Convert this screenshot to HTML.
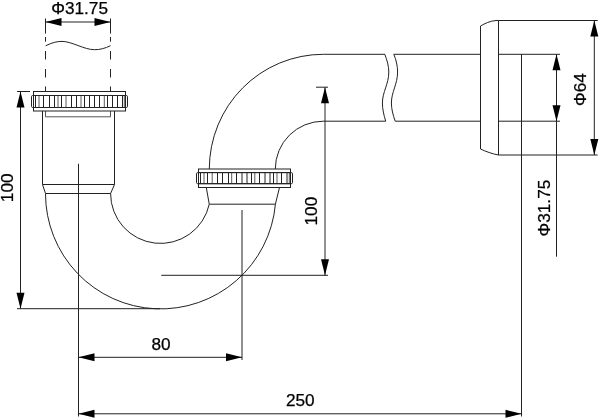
<!DOCTYPE html>
<html><head><meta charset="utf-8"><title>drawing</title>
<style>
html,body{margin:0;padding:0;background:#fff;}
svg{display:block;will-change:transform}
text{font-family:"Liberation Sans",sans-serif;font-size:17.2px;fill:#000;stroke:#000;stroke-width:0.25px;}
</style></head><body>
<svg width="600" height="420" viewBox="0 0 600 420">
<rect width="600" height="420" fill="#fff"/>
<g fill="none" stroke="#222" stroke-width="1">
<!-- top dimension -->
<path d="M45.5,18.5V33.5 M45.5,37V41.7 M45.5,51V59.5 M45.5,69V77.5 M45.5,86.5V91.5 M110.5,18.5V33.5 M110.5,37V41.7 M110.5,51V59.5 M110.5,69V77.5 M110.5,86.5V91.5"/>
<path d="M45.5,22H110.5"/>
<path d="M45.6,45.8 C52,42.6 57,41.4 62,41.4 C72,41.4 84,49.7 94.5,49.7 C100,49.7 105,48.4 110.5,45.7"/>
<!-- pipe 1 -->
<path d="M45.5,111V116.8H110.5V111" stroke="#555"/>
<path d="M42.5,111V184.5L45.50,193.5 M114.5,111V184.5L110.60,193.5 M42.5,184.5H114.5 M45.50,193.5H110.60"/>
<!-- U bend -->
<path d="M45.50,193.5 A115.2,115.2 0 0 0 275.42,204.2"/>
<path d="M110.60,193.5 A49.9,49.8 0 0 0 209.26,204.2"/>
<!-- below nut2 -->
<path d="M206.3,187.5L209.26,204.2H275.42L279.5,187.5"/>
<!-- upper bend -->
<path d="M209.3,169.0 A114.0,114.7 0 0 1 323.3,54.3 H385"/>
<path d="M275.3,169.0 A48.0,47.8 0 0 1 323.3,121.2 H385.7"/>
<!-- break -->
<path d="M384.8,54.3 C387,60 388.8,66 388.8,72 C388.8,84 382.4,92 382.4,103 C382.4,109 383.8,115 385.7,121.2"/>
<path d="M393.8,54.3 C396.2,60 397.6,66 397.6,72 C397.6,84 391.4,92 391.4,103 C391.4,109 393,115 395.2,121.2"/>
<path d="M393.8,54.3H480.5 M395.2,121.2H480.5"/>
<!-- wall flange -->
<path d="M498.5,20.5 V155 M480.5,26 V149 M480.5,26 C485,23.4 490,21 496,20.5 H498.5 M480.5,149 C486,151.6 492,153.8 498.5,155"/>
<path d="M498.5,20.5H597.7 M498.5,155H597.7 M498.5,54.3H560 M498.5,121.2H560"/>
<!-- dims -->
<path d="M594.3,20.5V155 M556.5,54.3V256.7 M521.5,54.3V416.5"/>
<path d="M78.5,163.75V416.5 M242,210V360"/>
<path d="M17,91.5H30 M17,308.7H160 M20.5,91.5V308.7"/>
<path d="M161.25,275.3H328 M325,87.2V275.3 M316,87.2H328"/>
<path d="M78.5,357.3H242 M78.5,413.8H521.5"/>
<!-- nuts -->
<rect x="33.5" y="91.5" width="92.0" height="19.5" fill="#fff" stroke="none"/>
<rect x="31.5" y="95.5" width="96.0" height="12.0" rx="1" fill="#fff" stroke="none"/>
<path d="M35.5,95.5V107.5 M43.5,95.5V107.5 M49.5,95.5V107.5 M54.5,95.5V107.5 M61.5,95.5V107.5 M71.5,95.5V107.5 M76.5,95.5V107.5 M84.5,95.5V107.5 M89.5,95.5V107.5 M94.5,95.5V107.5 M99.5,95.5V107.5 M107.5,95.5V107.5 M112.5,95.5V107.5 M117.5,95.5V107.5 M122.5,95.5V107.5"/>
<path d="M39,95.5V107.5 M58,95.5V107.5 M66,95.5V107.5 M81,95.5V107.5 M104.3,95.5V107.5 M124.3,95.5V107.5" stroke="#5a5a5a"/>
<path d="M33.5,95.5 H125.5 M33.5,107.5 H125.5"/>
<rect x="33.5" y="91.5" width="92.0" height="19.5"/>
<rect x="31.5" y="95.5" width="96.0" height="12.0" rx="1.2"/>
<rect x="198.5" y="169" width="92.0" height="18.5" fill="#fff" stroke="none"/>
<rect x="196.5" y="172.6" width="96.0" height="11.099999999999994" rx="1" fill="#fff" stroke="none"/>
<path d="M200.5,172.6V183.7 M207.5,172.6V183.7 M217.5,172.6V183.7 M222.5,172.6V183.7 M228.5,172.6V183.7 M236.5,172.6V183.7 M242,172.6V183.7 M247,172.6V183.7 M251.5,172.6V183.7 M259.5,172.6V183.7 M265,172.6V183.7 M270,172.6V183.7 M273.5,172.6V183.7 M281.5,172.6V183.7 M287,172.6V183.7"/>
<path d="M204,172.6V183.7 M212.2,172.6V183.7 M231.7,172.6V183.7 M254.8,172.6V183.7 M277,172.6V183.7 M289.3,172.6V183.7" stroke="#5a5a5a"/>
<path d="M198.5,172.6 H290.5 M198.5,183.7 H290.5"/>
<rect x="198.5" y="169" width="92.0" height="18.5"/>
<rect x="196.5" y="172.6" width="96.0" height="11.099999999999994" rx="1.2"/>
</g>
<g fill="#000" stroke="none">
<polygon points="45.5,22 61.5,18.0 61.5,26.0"/>
<polygon points="110.5,22 94.5,18.0 94.5,26.0"/>
<polygon points="20.5,91.5 16.5,107.5 24.5,107.5"/>
<polygon points="20.5,308.7 16.5,292.7 24.5,292.7"/>
<polygon points="325,87.2 321.0,103.2 329.0,103.2"/>
<polygon points="325,275.3 321.0,259.3 329.0,259.3"/>
<polygon points="78.5,357.3 94.5,353.3 94.5,361.3"/>
<polygon points="242,357.3 226,353.3 226,361.3"/>
<polygon points="78.5,413.8 94.5,409.8 94.5,417.8"/>
<polygon points="521.5,413.8 505.5,409.8 505.5,417.8"/>
<polygon points="556.5,54.3 552.5,70.3 560.5,70.3"/>
<polygon points="556.5,121.2 552.5,105.2 560.5,105.2"/>
<polygon points="594.3,20.5 590.3,36.5 598.3,36.5"/>
<polygon points="594.3,155 590.3,139 598.3,139"/>
</g>
<text transform="translate(79.6,13.8)" text-anchor="middle">Φ31.75</text>
<text transform="translate(161,349.7)" text-anchor="middle">80</text>
<text transform="translate(300.3,406.1)" text-anchor="middle">250</text>
<text transform="translate(13,187.8) rotate(-90)" text-anchor="middle">100</text>
<text transform="translate(317.2,211.1) rotate(-90)" text-anchor="middle">100</text>
<text transform="translate(586.4,89.6) rotate(-90)" text-anchor="middle">Φ64</text>
<text transform="translate(550.3,208.1) rotate(-90)" text-anchor="middle">Φ31.75</text>
</svg>
</body></html>
